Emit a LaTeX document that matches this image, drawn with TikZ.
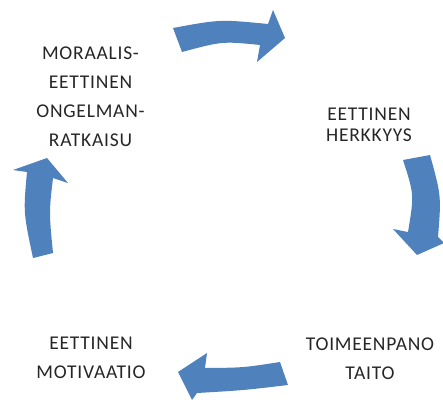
\documentclass[tikz,border=0pt]{standalone}
\usepackage{fontspec}
\setmainfont{Carlito}[LetterSpace=4]
\definecolor{cycleblue}{HTML}{4F81BD}
\definecolor{labelgray}{HTML}{262626}
\tikzset{
  stage/.style={inner sep=0pt, align=center, text=labelgray,
    font=\fontsize{19.5}{29}\selectfont},
  tightstage/.style={stage, font=\fontsize{19.5}{20.5}\selectfont},
  cyclearrow/.style={fill=cycleblue, draw=none}
}
\begin{document}
\begin{tikzpicture}[x=1pt, y=-1pt]
  \useasboundingbox (0,0) rectangle (443,401);

  % stage labels
  \node[stage] (ratkaisu) at (90.5,96.7) {MORAALIS-\\EETTINEN\\ONGELMAN-\\RATKAISU};
  \node[tightstage] (herkkyys) at (369,124.8) {EETTINEN\\HERKKYYS};
  \node[stage] (taito) at (370,358.8) {TOIMEENPANO\\TAITO};
  \node[stage] (motivaatio) at (91,358) {EETTINEN\\MOTIVAATIO};

  % curved block arrows running clockwise round the cycle
  % top: towards the right
  \fill[cyclearrow] (173,28) .. controls (220,19.3) .. (268,24)
    -- (273,10) -- (285,38) -- (257,62) -- (260,45)
    .. controls (222.3,41.2) .. (182,52) -- cycle;
  % right: downwards
  \fill[cyclearrow] (403,160) -- (430,155)
    .. controls (441.3,196) .. (438,237)
    -- (444,243) -- (417,255) -- (393,229) -- (408,232)
    .. controls (414.2,194.7) .. (403,160) -- cycle;
  % bottom: towards the left
  \fill[cyclearrow] (280,362) -- (288,385)
    .. controls (243.2,390.3) .. (197,393)
    -- (192,400) -- (178,372) -- (207,353) -- (205,368)
    .. controls (243.2,367.7) .. (280,362) -- cycle;
  % left: upwards
  \fill[cyclearrow] (33,258) -- (53,253)
    .. controls (49,212.2) .. (53,178)
    -- (68,183) -- (47,158) -- (13,170) -- (27,172)
    .. controls (23.3,212.3) .. (33,258) -- cycle;
\end{tikzpicture}
\end{document}
